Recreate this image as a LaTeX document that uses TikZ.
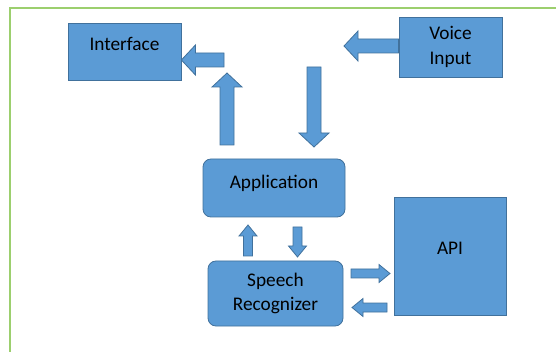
\documentclass[tikz,border=0pt]{standalone}
\usepackage{fontspec}
\setmainfont{Carlito}
\usetikzlibrary{positioning,calc}
\definecolor{boxfill}{HTML}{5B9BD5}
\definecolor{boxedge}{HTML}{41719C}
\definecolor{framegreen}{HTML}{9CCF6E}

\begin{document}
\begin{tikzpicture}[
    x=1pt, y=-1pt,
    font=\fontsize{19.3}{24.5}\selectfont,
    block/.style={rectangle, draw=boxedge, fill=boxfill, line width=0.8pt, text centered, inner sep=0pt},
    rblock/.style={block, rounded corners=8pt},
    raised/.style={text height=13pt, text depth=#1},
    shaft half/.store in=\shafthalf, tip half/.store in=\tiphalf, tip len/.store in=\tiplen,
    fat/.style={draw=boxedge, fill=boxfill, line width=0.8pt, line join=miter,
        to path={($(\tikztotarget)!\tiplen!(\tikztostart)$) coordinate (tipbase)
            ($(\tikztostart)!\shafthalf!90:(\tikztotarget)$)
            -- ($(tipbase)!\shafthalf!90:(\tikztotarget)$)
            -- ($(tipbase)!\tiphalf!90:(\tikztotarget)$)
            -- (\tikztotarget)
            -- ($(tipbase)!\tiphalf!-90:(\tikztotarget)$)
            -- ($(tipbase)!\shafthalf!-90:(\tikztotarget)$)
            -- ($(\tikztostart)!\shafthalf!-90:(\tikztotarget)$) -- cycle}},
    bigarrow/.style={fat, shaft half=7pt, tip half=15pt, tip len=14pt},
    smallarrow/.style={fat, shaft half=4.5pt, tip half=9pt, tip len=11pt}
]
    \useasboundingbox (0,0) rectangle (556,352);
    \draw[framegreen, line width=2pt] (10,352) -- (10,8) -- (556,8);

    % Nodes
    \node (interface) [block, raised=15pt, minimum width=113, minimum height=57] at (124.5,51.5) {Interface};
    \node (voice) [block, align=center, minimum width=103, minimum height=60] at (450.5,47) {Voice\\Input};
    \node (app) [rblock, raised=11pt, minimum width=142, minimum height=58] at (274,188) {Application};
    \node (speech) [rblock, align=center, minimum width=135, minimum height=65] at (275.5,293.5) {Speech\\Recognizer};
    \node (api) [block, raised=15pt, minimum width=112, minimum height=118] at (450,256) {API};

    % Arrow ends
    \coordinate (toif) at (interface.east |- 0,60);
    \coordinate (fromup) at (224,60);
    \coordinate (appout) at (227,145);
    \coordinate (upend) at (227,73);
    \coordinate (voiceout) at (voice.west |- 0,46);
    \coordinate (voiceend) at (344,46);
    \coordinate (downtop) at (314,67);
    \coordinate (downend) at (314,147);
    \coordinate (srup) at (248,256);
    \coordinate (appin) at (248,225);
    \coordinate (appdown) at (297.5,227);
    \coordinate (srin) at (297.5,257);
    \coordinate (srout) at (351,273.5);
    \coordinate (apiin) at (390,273.5);
    \coordinate (apiout) at (387,307.5);
    \coordinate (srback) at (352,307.5);

    % Connections
    \draw [bigarrow] (fromup) to (toif);
    \draw [bigarrow] (appout) to (upend);
    \draw [bigarrow] (voiceout) to (voiceend);
    \draw [bigarrow] (downtop) to (downend);
    \draw [smallarrow] (srup) to (appin);
    \draw [smallarrow] (appdown) to (srin);
    \draw [smallarrow] (srout) to (apiin);
    \draw [smallarrow] (apiout) to (srback);

\end{tikzpicture}
\end{document}
